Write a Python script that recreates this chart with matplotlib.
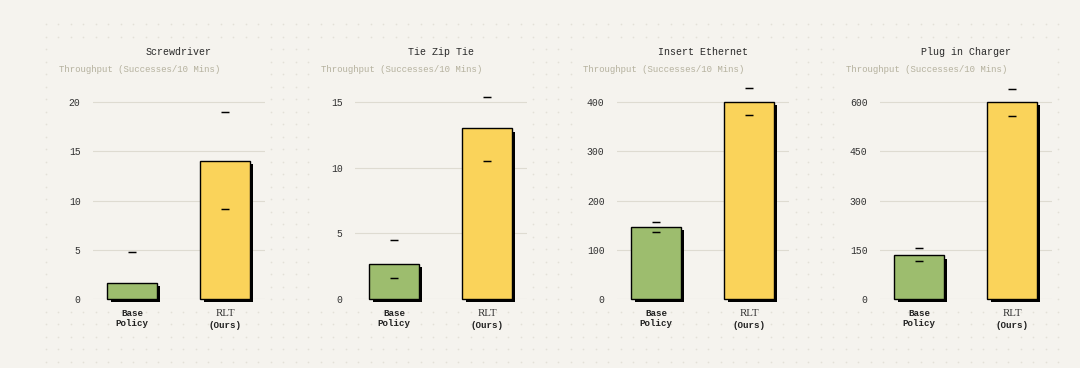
import numpy as np
import matplotlib
matplotlib.use("Agg")
import matplotlib.pyplot as plt
from matplotlib.patches import Rectangle
from matplotlib.transforms import offset_copy

# data
tasks = ["Screwdriver", "Tie Zip Tie", "Insert Ethernet", "Plug in Charger"]
base_mean = [1.6, 2.7, 146, 133]
base_lo = [-1.6, 1.6, 136, 116]
base_hi = [4.8, 4.5, 157, 155]
rlt_mean = [14, 13, 400, 600]
rlt_lo = [9.1, 10.5, 373, 559]
rlt_hi = [19.0, 15.4, 428, 641]
yticks = [[0, 5, 10, 15, 20], [0, 5, 10, 15], [0, 100, 200, 300, 400],
          [0, 150, 300, 450, 600]]
subtitle = "Throughput (Successes/10 Mins)"

BG = "#f5f3ee"
GREEN = "#9dbd6e"
YELLOW = "#fad35a"
GRID = "#dedbd1"
MONO = "Liberation Mono"

W, H = 1080, 368
fig = plt.figure(figsize=(W / 100, H / 100), dpi=100)
fig.patch.set_facecolor(BG)

# dotted backdrop, pixel coordinates
bg = fig.add_axes([0, 0, 1, 1], zorder=-5)
bg.set_xlim(0, W)
bg.set_ylim(H, 0)
bg.axis("off")
gx, gy = np.meshgrid(np.arange(45.5, 1070, 12.5), np.arange(24, 366, 12.5))
bg.scatter(gx.ravel(), gy.ravel(), s=1.5, color="#e3e0d7", lw=0)

ax_left = [93, 355, 617, 880]
ax_w = 172
ax_top, ax_bot = 80, 299

for i, task in enumerate(tasks):
    L = ax_left[i]
    # panel card hides dots
    bg.add_patch(Rectangle((L - 43, 42), ax_w + 47, 264, color=BG, lw=0))

    ax = fig.add_axes([L / W, 1 - ax_bot / H, ax_w / W, (ax_bot - ax_top) / H])
    ax.set_facecolor("none")
    for s in ax.spines.values():
        s.set_visible(False)

    shadow = offset_copy(ax.transData, fig=fig, x=3.2, y=-3.2, units="dots")
    x = [0, 1]
    means = [base_mean[i], rlt_mean[i]]
    cols = [GREEN, YELLOW]
    ax.bar(x, means, width=0.53, color="black", transform=shadow,
           zorder=2, clip_on=False, lw=0)
    ax.bar(x, means, width=0.53, color=cols, edgecolor="black", lw=1.0,
           zorder=3, clip_on=False)
    ax.plot([0, 0], [base_lo[i], base_hi[i]], ls="none", marker="_",
            ms=6, mew=1.05, color="black", zorder=4)
    ax.plot([1, 1], [rlt_lo[i], rlt_hi[i]], ls="none", marker="_",
            ms=6, mew=1.05, color="black", zorder=4)

    ax.set_xlim(-0.42, 1.43)
    ax.set_ylim(0, yticks[i][-1] * 1.112)
    ax.set_yticks(yticks[i])
    ax.set_yticklabels([str(t) for t in yticks[i]], fontfamily=MONO,
                       fontsize=7, color="#333333")
    ax.tick_params(axis="y", length=0, pad=9)
    ax.set_xticks([])
    ax.grid(axis="y", color=GRID, lw=0.8, zorder=0)
    ax.set_axisbelow(True)

    fig.text((L + ax_w / 2) / W, 1 - 52 / H, task, ha="center", va="center",
             fontfamily=MONO, fontsize=7.2, color="#2a2a2a")
    fig.text((L - 34) / W, 1 - 70 / H, subtitle, ha="left", va="center",
             fontfamily=MONO, fontsize=6.45, color="#b5b19e")

    lab = dict(xycoords=("data", "axes fraction"), textcoords="offset points",
               ha="center", va="top")
    ax.annotate("Base\nPolicy", xy=(0, 0), xytext=(0, -7.5), fontfamily=MONO,
                fontweight="bold", fontsize=6.6, color="#222222",
                linespacing=1.15, **lab)
    ax.annotate("RLT", xy=(1, 0), xytext=(0, -7.5), fontfamily="Liberation Serif",
                fontsize=7.8, color="#333333", **lab)
    ax.annotate("(Ours)", xy=(1, 0), xytext=(0, -15.5), fontfamily=MONO,
                fontweight="bold", fontsize=6.6, color="#222222", **lab)

fig.savefig("out.png", dpi=100, facecolor=BG)
